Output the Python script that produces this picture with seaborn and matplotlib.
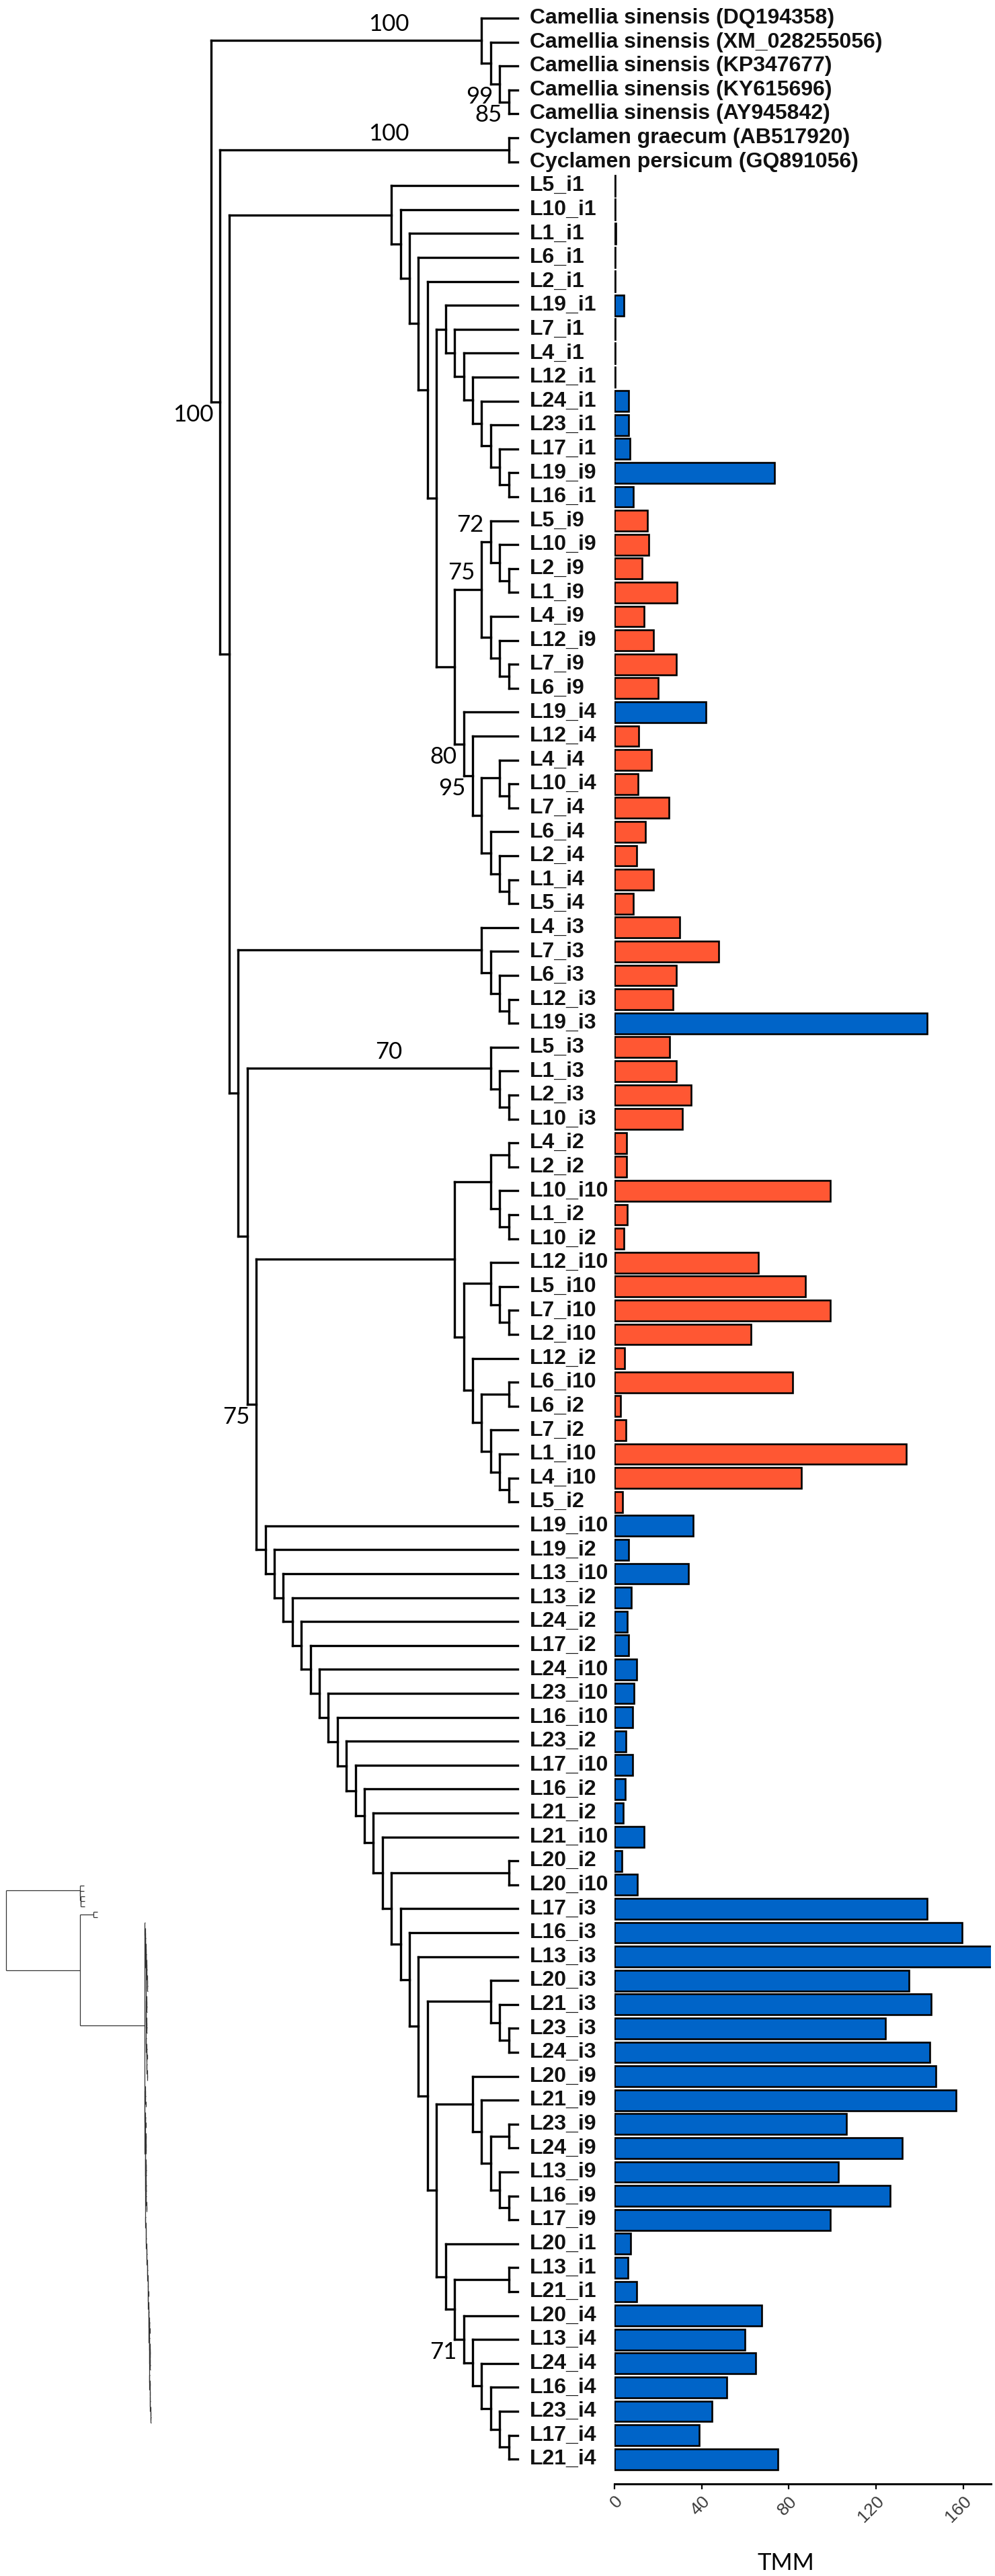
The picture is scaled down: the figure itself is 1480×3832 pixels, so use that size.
import numpy as np
import pandas as pd
import matplotlib
matplotlib.use("Agg")
import matplotlib.pyplot as plt
import seaborn as sns
from matplotlib.collections import LineCollection

sns.set_theme(style="white")
plt.rcParams["font.family"] = ["Liberation Sans", "DejaVu Sans"]

W, H = 1480, 3832

# ---------------- data ----------------
camellia = ["Camellia sinensis (DQ194358)", "Camellia sinensis (XM_028255056)",
            "Camellia sinensis (KP347677)", "Camellia sinensis (KY615696)",
            "Camellia sinensis (AY945842)"]
cyclamen = ["Cyclamen graecum (AB517920)", "Cyclamen persicum (GQ891056)"]

samples = ["L5_i1", "L10_i1", "L1_i1", "L6_i1", "L2_i1", "L19_i1", "L7_i1", "L4_i1",
           "L12_i1", "L24_i1", "L23_i1", "L17_i1", "L19_i9", "L16_i1", "L5_i9", "L10_i9",
           "L2_i9", "L1_i9", "L4_i9", "L12_i9", "L7_i9", "L6_i9", "L19_i4", "L12_i4",
           "L4_i4", "L10_i4", "L7_i4", "L6_i4", "L2_i4", "L1_i4", "L5_i4", "L4_i3",
           "L7_i3", "L6_i3", "L12_i3", "L19_i3", "L5_i3", "L1_i3", "L2_i3", "L10_i3",
           "L4_i2", "L2_i2", "L10_i10", "L1_i2", "L10_i2", "L12_i10", "L5_i10", "L7_i10",
           "L2_i10", "L12_i2", "L6_i10", "L6_i2", "L7_i2", "L1_i10", "L4_i10", "L5_i2",
           "L19_i10", "L19_i2", "L13_i10", "L13_i2", "L24_i2", "L17_i2", "L24_i10",
           "L23_i10", "L16_i10", "L23_i2", "L17_i10", "L16_i2", "L21_i2", "L21_i10",
           "L20_i2", "L20_i10", "L17_i3", "L16_i3", "L13_i3", "L20_i3", "L21_i3",
           "L23_i3", "L24_i3", "L20_i9", "L21_i9", "L23_i9", "L24_i9", "L13_i9",
           "L16_i9", "L17_i9", "L20_i1", "L13_i1", "L21_i1", "L20_i4", "L13_i4",
           "L24_i4", "L16_i4", "L23_i4", "L17_i4", "L21_i4"]

tmm = [0.2, 0.2, 0.5, 0.2, 0.2, 4.4, 0.2, 0.2,
       0.2, 6.6, 6.6, 7.0, 73.5, 8.5, 15.2, 15.8,
       12.7, 28.7, 13.6, 17.9, 28.4, 20.0, 42.0, 11.1,
       17.0, 10.7, 25.0, 14.3, 10.1, 17.9, 8.5, 30.0,
       47.9, 28.4, 26.9, 143.5, 25.3, 28.4, 35.3, 31.2,
       5.4, 5.4, 99.0, 6.0, 4.2, 65.9, 87.6, 99.0,
       62.7, 4.5, 81.8, 2.8, 5.1, 134.0, 85.8, 3.8,
       36.2, 6.6, 34.0, 7.8, 6.0, 6.4, 10.1,
       8.8, 8.3, 5.3, 8.2, 4.8, 4.1, 13.6,
       3.4, 10.5, 143.5, 159.4, 173.0, 135.0, 145.2,
       124.3, 144.8, 147.6, 156.8, 106.4, 132.0, 102.8,
       126.6, 99.0, 7.3, 6.3, 10.1, 67.6, 59.9,
       64.9, 51.5, 44.8, 39.0, 75.0]

orange_lines = ["L1", "L2", "L4", "L5", "L6", "L7", "L10", "L12"]
bar_colors = {"orange": "#FF5733", "blue": "#0064C8"}
xticks = [0, 40, 80, 120, 160]


# ---------------- tree ----------------
def node(*kids, bs=None, at=None, bl=0.3):
    return {"kids": list(kids), "bs": bs, "at": at, "bl": bl}


def ladder(*items, **kw):
    sub = node(items[-2], items[-1])
    for it in reversed(items[:-2]):
        sub = node(it, sub)
    sub.update(kw)
    return sub


camellia_clade = node(camellia[0],
                      node(camellia[1],
                           node(camellia[2], node(camellia[3], camellia[4], bs=85, at="below"),
                                bs=99, at="below")),
                      bs=100, at="stem", bl=110)
cyclamen_clade = node(cyclamen[0], cyclamen[1], bs=100, at="stem", bl=20)

i9_clade = node(node("L5_i9", ladder("L10_i9", "L2_i9", "L1_i9"), bs=72, at="above"),
                ladder("L4_i9", "L12_i9", "L7_i9", "L6_i9"), bs=75, at="above")
i4_clade = node("L19_i4",
                node("L12_i4",
                     node(ladder("L4_i4", "L10_i4", "L7_i4"),
                          ladder("L6_i4", "L2_i4", "L1_i4", "L5_i4")),
                     bs=95, at="below"),
                bs=80, at="below")
clade1 = ladder("L5_i1", "L10_i1", "L1_i1", "L6_i1", "L2_i1",
                node(ladder("L19_i1", "L7_i1", "L4_i1", "L12_i1", "L24_i1", "L23_i1",
                            "L17_i1", "L19_i9", "L16_i1"),
                     node(i9_clade, i4_clade)))

i3a = ladder("L4_i3", "L7_i3", "L6_i3", "L12_i3", "L19_i3")
i3b = ladder("L5_i3", "L1_i3", "L2_i3", "L10_i3", bs=70, at="stem")
i2i10 = node(node(node("L4_i2", "L2_i2"), ladder("L10_i10", "L1_i2", "L10_i2")),
             node(ladder("L12_i10", "L5_i10", "L7_i10", "L2_i10"),
                  node("L12_i2", node(node("L6_i10", "L6_i2"),
                                      ladder("L7_i2", "L1_i10", "L4_i10", "L5_i2")))))

i9b = node("L20_i9", node("L21_i9", node(node("L23_i9", "L24_i9"),
                                          ladder("L13_i9", "L16_i9", "L17_i9"))))
i4b = ladder("L20_i4", "L13_i4", "L24_i4", "L16_i4", "L23_i4", "L17_i4", "L21_i4",
             bs=71, at="below")
tail = node(node("L20_i2", "L20_i10"),
            ladder("L17_i3", "L16_i3", "L13_i3",
                   node(ladder("L20_i3", "L21_i3", "L23_i3", "L24_i3"),
                        node(i9b, node("L20_i1", node(node("L13_i1", "L21_i1"), i4b))))))
backbone = ladder("L19_i10", "L19_i2", "L13_i10", "L13_i2", "L24_i2", "L17_i2",
                  "L24_i10", "L23_i10", "L16_i10", "L23_i2", "L17_i10", "L16_i2",
                  "L21_i2", "L21_i10", tail)

ingroup = node(clade1, node(i3a, node(i3b, node(i2i10, backbone, bs=75, at="below"))), bl=96)
tree = node(camellia_clade, node(cyclamen_clade, ingroup, bs=100, at="below", bl=110), bl=0)

leaf_bl = {name: 6 for name in camellia + cyclamen}

leaves = []


def collect(t):
    if isinstance(t, str):
        leaves.append(t)
        return
    for k in t["kids"]:
        collect(k)


collect(tree)
assert leaves == camellia + cyclamen + samples
row = {name: i for i, name in enumerate(leaves)}

# layout (pixels)
TIP_X, STEP, LABEL_X = 770, 13.41, 788
ROW0, PITCH = 27, 35.6
AXIS_Y = 3695
INSET_X0, INSET_ROW0, INSET_PITCH = 9, 2805, 7.83


def height(t):
    if isinstance(t, str):
        return 0
    return 1 + max(height(k) for k in t["kids"])


def clado(t, segs, marks):
    if isinstance(t, str):
        return TIP_X, ROW0 + PITCH * row[t]
    x = TIP_X - STEP * height(t)
    ys = []
    for k in t["kids"]:
        kx, ky = clado(k, segs, marks)
        segs.append([(x, ky), (kx, ky)])
        ys.append(ky)
    segs.append([(x, ys[0]), (x, ys[-1])])
    y = (ys[0] + ys[-1]) / 2
    if t["bs"] is not None:
        marks.append((x, y, t["bs"], t["at"]))
    return x, y


def phylo(t, x0, segs):
    if isinstance(t, str):
        y = INSET_ROW0 + INSET_PITCH * row[t]
        segs.append([(x0, y), (x0 + leaf_bl.get(t, 0.3), y)])
        return y
    x = x0 + t["bl"]
    ys = [phylo(k, x, segs) for k in t["kids"]]
    y = (ys[0] + ys[-1]) / 2
    segs.append([(x0, y), (x, y)])
    segs.append([(x, ys[0]), (x, ys[-1])])
    return y


# ---------------- figure ----------------
fig = plt.figure(figsize=(W / 100, H / 100), dpi=100)
ax = fig.add_axes([0, 0, 1, 1])
ax.set_xlim(0, W)
ax.set_ylim(H, 0)
ax.axis("off")

segs, marks = [], []
clado(tree, segs, marks)
ax.add_collection(LineCollection(segs, colors="black", linewidths=2.4, capstyle="projecting"))

for name in leaves:
    ax.text(LABEL_X, ROW0 + PITCH * row[name], name, ha="left", va="center",
            fontsize=23, fontweight="bold", color="#111111")

for x, y, bs, at in marks:
    kw = dict(fontsize=25, family=["Lato", "DejaVu Sans"], color="black", va="center")
    if at == "stem":
        ax.text(578, y - 24, str(bs), ha="center", **kw)
    elif at == "above":
        ax.text(x - 10, y - 25, str(bs), ha="right", **kw)
    else:
        ax.text(x - 10, y + 19, str(bs), ha="right", **kw)

# small overview tree with branch lengths
isegs = []
phylo(tree, INSET_X0, isegs)
ax.add_collection(LineCollection(isegs, colors="#333333", linewidths=0.9))

ax.text(1169, 3813, "TMM", ha="center", va="center", fontsize=25,
        family=["Lato", "DejaVu Sans"], color="black")

# ---------------- bars ----------------
df = pd.DataFrame({"sample": samples, "tmm": tmm})
df["group"] = ["orange" if s.split("_")[0] in orange_lines else "blue" for s in samples]

axb = fig.add_axes([914 / W, (H - AXIS_Y) / H, 560 / W, AXIS_Y / H])
axb.patch.set_alpha(0)
sns.barplot(data=df, x="tmm", y="sample", hue="group", order=leaves, palette=bar_colors,
            saturation=1, dodge=False, width=0.86, edgecolor="black", linewidth=1.9,
            legend=False, orient="h", ax=axb)
axb.set_xlim(0, 172.8)
axb.set_ylim((AXIS_Y - ROW0) / PITCH, -ROW0 / PITCH)
axb.set_xlabel("")
axb.set_ylabel("")
for side in ["left", "top", "right"]:
    axb.spines[side].set_visible(False)
axb.spines["bottom"].set_linewidth(2.2)
axb.spines["bottom"].set_color("black")
axb.tick_params(left=False, labelleft=False)
axb.set_xticks(xticks)
axb.set_xticklabels([str(v) for v in xticks], rotation=45, ha="right", va="top",
                    rotation_mode="anchor", fontsize=19, color="#3c3c3c")
axb.tick_params(axis="x", direction="out", length=5.8, width=1.6, pad=4, bottom=True,
                color="black")

fig.savefig("out.png", dpi=100)
